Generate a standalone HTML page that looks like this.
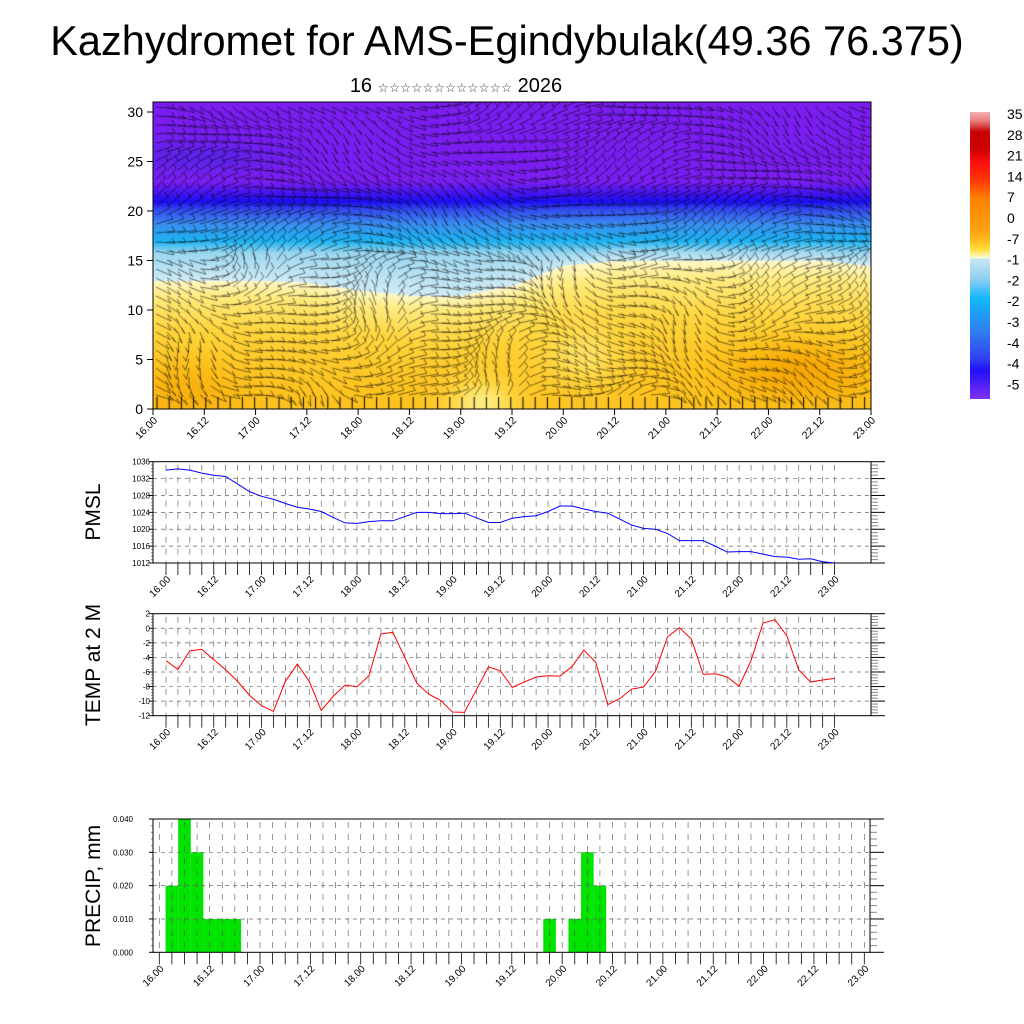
<!DOCTYPE html>
<html><head><meta charset="utf-8"><style>
html,body{margin:0;padding:0;background:#fff;}
#wrap{position:relative;width:1024px;height:1024px;overflow:hidden;font-family:"Liberation Sans",sans-serif;}
canvas{position:absolute;left:153px;top:102px;}
svg{position:absolute;left:0;top:0;}
</style></head><body>
<div id="wrap">
<canvas id="field" width="718" height="307"></canvas>
<svg id="svg" width="1024" height="1024" xmlns="http://www.w3.org/2000/svg">
<text x="507" y="55" font-size="41.5" text-anchor="middle" font-family="Liberation Sans, sans-serif">Kazhydromet for AMS-Egindybulak(49.36 76.375)</text>
<text x="456" y="92" font-size="20" text-anchor="middle" font-family="Liberation Sans, DejaVu Sans, sans-serif">16 <tspan font-size="12.5" font-family="DejaVu Sans, sans-serif" fill="#444">☆☆☆☆☆☆☆☆☆☆☆☆</tspan> 2026</text>
<text transform="translate(100,512) rotate(-90)" font-size="21" text-anchor="middle">PMSL</text>
<text transform="translate(100,665) rotate(-90)" font-size="21" text-anchor="middle">TEMP at 2 M</text>
<text transform="translate(100,886) rotate(-90)" font-size="21" text-anchor="middle">PRECIP, mm</text>
<g id="g"></g>
</svg>
</div>
<script>
// ---- data ----
const timeLabels = ["16.00","16.12","17.00","17.12","18.00","18.12","19.00","19.12","20.00","20.12","21.00","21.12","22.00","22.12","23.00"];
const pmslValues = [1034.0,1034.3,1034.0,1033.3,1032.8,1032.5,1030.7,1028.9,1027.8,1027.1,1026.1,1025.2,1024.8,1024.2,1022.8,1021.5,1021.4,1021.8,1022.0,1022.0,1023.0,1024.0,1024.0,1023.7,1023.7,1023.8,1022.7,1021.6,1021.6,1022.6,1023.0,1023.2,1024.2,1025.5,1025.5,1024.8,1024.2,1023.8,1022.4,1021.0,1020.2,1020.0,1019.0,1017.3,1017.3,1017.3,1016.0,1014.6,1014.7,1014.7,1014.1,1013.5,1013.4,1012.9,1013.0,1012.3,1012.0];
const pmslTicks = [1036,1032,1028,1024,1020,1016,1012];
const tempValues = [-4.45,-5.64,-3.08,-2.90,-4.31,-5.69,-7.29,-9.21,-10.63,-11.40,-7.29,-4.91,-7.29,-11.27,-9.35,-7.79,-8.02,-6.51,-0.79,-0.56,-3.99,-7.52,-9.03,-9.90,-11.50,-11.54,-8.43,-5.32,-5.82,-8.11,-7.38,-6.69,-6.51,-6.56,-5.27,-2.99,-4.68,-10.49,-9.67,-8.34,-8.07,-5.91,-1.20,0.08,-1.48,-6.33,-6.24,-6.69,-7.93,-4.45,0.72,1.18,-1.02,-5.73,-7.38,-7.10,-6.88];
const tempTicks = [2,0,-2,-4,-6,-8,-10,-12];
const precipValues = [0,0.02,0.04,0.03,0.01,0.01,0.01,0,0,0,0,0,0,0,0,0,0,0,0,0,0,0,0,0,0,0,0,0,0,0,0,0.01,0,0.01,0.03,0.02,0,0,0,0,0,0,0,0,0,0,0,0,0,0,0,0,0,0,0,0,0];
const precipTicks = [0.040,0.030,0.020,0.010,0.000];
const heightTicks = [30,25,20,15,10,5,0];
const cbarLabels = ["35","28","21","14","7","0","-7","-1","-2","-2","-3","-4","-4","-5"];
// top of warm layer (km) at each half day 16..23
const warmTop = [13,13,13,12.8,12,11.5,11.5,12.5,14.5,15,15,15,15,15,14.5];

const NS="http://www.w3.org/2000/svg";
const g=document.getElementById('g');
function el(t,a,p){const e=document.createElementNS(NS,t);for(const k in a)e.setAttribute(k,a[k]);(p||g).appendChild(e);return e;}

// ---------- top field ----------
(function(){
  const c=document.getElementById('field'),ctx=c.getContext('2d');
  const W=718,H=307,img=ctx.createImageData(W,H);
  function lerpC(stops,v){
    if(v<=stops[0][0])return stops[0][1];
    for(let i=1;i<stops.length;i++){if(v<=stops[i][0]){const a=stops[i-1],b=stops[i];const t=(v-a[0])/(b[0]-a[0]||1);return a[1].map((x,j)=>x+(b[1][j]-x)*t);}}
    return stops[stops.length-1][1];
  }
  const ys=[[0,[245,163,0]],[0.35,[253,194,30]],[0.6,[255,214,64]],[0.85,[255,235,128]],[1,[255,248,200]]];
  function gb(d,z,d0,z0,sd,sz){return Math.exp(-((d-d0)*(d-d0)/(sd*sd)+(z-z0)*(z-z0)/(sz*sz)));}
  for(let py=0;py<H;py++){
    const z=(H-py)/9.9;
    for(let px=0;px<W;px++){
      const d=px/W*7;
      const fi=d*2,i0=Math.min(13,Math.floor(fi)),f=fi-i0;
      const b=warmTop[i0]+(warmTop[i0+1]-warmTop[i0])*f;
      let col;
      if(z<b){
        let v=0.35+0.65*Math.pow(z/b,2);
        v-=0.35*gb(d,z,6.3,4,0.7,3);
        v-=0.2*gb(d,z,0.3,2,0.5,3);
        v+=0.5*gb(d,z,3.2,0.5,0.35,2.5);
        v+=0.3*gb(d,z,4.2,5,0.4,3);
        col=lerpC(ys,Math.max(0,Math.min(1,v)));
      } else {
        const s2=Math.max(b+1,15.8);
        const st=[[b,[210,236,245]],[s2,[154,214,240]],[17,[28,180,242]],[18.7,[58,142,240]],[20.2,[52,72,238]],[21,[28,14,242]],[22,[74,22,238]],[23,[122,30,240]],[32,[122,30,240]]];
        col=lerpC(st,z).slice();
        const k=gb(d,z,0.4,25.5,0.8,1.5);
        col=col.map((x,j)=>x+([80,36,232][j]-x)*k*0.7);
      }
      const o=(py*W+px)*4;img.data[o]=col[0];img.data[o+1]=col[1];img.data[o+2]=col[2];img.data[o+3]=255;
    }
  }
  ctx.putImageData(img,0,0);
  // decorative wind barbs texture
  ctx.strokeStyle='rgba(0,0,0,0.7)';ctx.lineWidth=0.75;
  for(let gy=5;gy<H-8;gy+=9){for(let gx=3;gx<W;gx+=11){
    const a=0.3*Math.sin(gx*0.031+gy*0.05)+0.9*Math.sin(gx*0.013-gy*0.021)+ (gy<150?0.1:0.6*Math.sin(gx*0.05));
    const L=19,dx=Math.cos(a)*L,dy=Math.sin(a)*L*0.6;
    ctx.beginPath();ctx.moveTo(gx,gy);ctx.lineTo(gx+dx,gy+dy);
    ctx.moveTo(gx+dx,gy+dy);ctx.lineTo(gx+dx-3,gy+dy-5);ctx.stroke();
  }}
  ctx.strokeStyle='#000';ctx.lineWidth=1;
  for(let gx=4;gx<W;gx+=12.2){ctx.beginPath();ctx.moveTo(gx,H-12);ctx.lineTo(gx,H);ctx.stroke();}
})();
el('rect',{x:153,y:102,width:718,height:307,fill:'none',stroke:'#000','stroke-width':1,});
heightTicks.forEach(v=>{const y=409-v*9.9;
  el('line',{x1:147,x2:153,y1:y,y2:y,stroke:'#000'});
  const t=el('text',{x:143,y:y+5,'font-size':14,'text-anchor':'end'});t.textContent=v;
  
  
});
timeLabels.forEach((s,i)=>{const x=153+i*718/14;
  el('line',{x1:x,x2:x,y1:409,y2:415,stroke:'#000'});
  const t=el('text',{x:0,y:0,'font-size':10.5,'text-anchor':'end',transform:`translate(${x+5},${421}) rotate(-45)`});t.textContent=s;
  
  
});
// colorbar
(function(){
  const stops=[[0,'#f4b0b0'],[0.03,'#e88080'],[0.07,'#c40000'],[0.13,'#d00000'],[0.18,'#ff1010'],[0.24,'#ff3800'],[0.3,'#ff8000'],[0.41,'#ffa010'],[0.45,'#ffc020'],[0.48,'#ffe040'],[0.508,'#fffbd0'],[0.512,'#c8e6f5'],[0.58,'#90d0f0'],[0.65,'#10b8ff'],[0.76,'#3080f0'],[0.86,'#3040f0'],[0.9,'#2010f8'],[1,'#8030f0']];
  const gr=el('linearGradient',{id:'cb',x1:0,y1:0,x2:0,y2:1});
  stops.forEach(s=>el('stop',{offset:s[0],'stop-color':s[1]},gr));
  el('rect',{x:970,y:112,width:20,height:287,fill:'url(#cb)',});
  cbarLabels.forEach((s,i)=>{const t=el('text',{x:1007,y:119+i*20.8,'font-size':14});t.textContent=s;
    
    });
})();

// ---------- line panels ----------
function frame(o){
  const {x0,x1,y0,y1,xs,ys,ticks,fmt,name,labOff}=o;
  for(let i=0;i<=56;i++){const x=xs(i);
    el('line',{x1:x,x2:x,y1:y0,y2:y1,stroke:'#555','stroke-width':0.6,'stroke-dasharray':'6,6','stroke-dashoffset':-3});
    el('line',{x1:x,x2:x,y1:y1,y2:y1+12,stroke:'#000','stroke-width':0.8});
  }
  ticks.forEach((v,k)=>{const y=ys(v);
    el('line',{x1:x0,x2:x1,y1:y,y2:y,stroke:'#666','stroke-width':0.7,'stroke-dasharray':'4,4'});
    el('line',{x1:x1,x2:x1+14,y1:y,y2:y,stroke:'#000'});
    el('line',{x1:x0-4,x2:x0,y1:y,y2:y,stroke:'#000'});
    const t=el('text',{x:x0-labOff,y:y+3,'font-size':8,'text-anchor':'end'});t.textContent=fmt(v);
    
    
    if(k<ticks.length-1){const y2=ys(ticks[k+1]);for(let m=1;m<5;m++){const yy=y+(y2-y)*m/5;
      el('line',{x1:x1,x2:x1+7,y1:yy,y2:yy,stroke:'#888'});el('line',{x1:x0-2,x2:x0,y1:yy,y2:yy,stroke:'#888'});}}
  });
  el('rect',{x:x0,y:y0,width:x1-x0,height:y1-y0,fill:'none',stroke:'#000','stroke-width':1});
  timeLabels.forEach((s,i)=>{const x=xs(i*4);
    const t=el('text',{x:0,y:0,'font-size':10,'text-anchor':'end',transform:`translate(${x+5},${y1+17}) rotate(-45)`});t.textContent=s;
    
    
  });
}
function mk(x0,x1,y0,y1,tx0,tx1,vmin,vmax){return {xs:i=>tx0+i*(tx1-tx0)/56, ys:v=>y0+(vmax-v)/(vmax-vmin)*(y1-y0)};}
const P=mk(153,871,461.7,563,166,834.6,1012,1036);
frame({x0:153,x1:871,y0:461.7,y1:563,xs:P.xs,ys:P.ys,ticks:pmslTicks,fmt:v=>v,name:'pmsl',labOff:3});
const pl=el('polyline',{points:pmslValues.map((v,i)=>P.xs(i)+','+P.ys(v)).join(' '),fill:'none',stroke:'#0000ff','stroke-width':1});


const T=mk(153,871,613.7,715.7,166,834.6,-12,2);
frame({x0:153,x1:871,y0:613.7,y1:715.7,xs:T.xs,ys:T.ys,ticks:tempTicks,fmt:v=>v,name:'temp',labOff:3});
const tl=el('polyline',{points:tempValues.map((v,i)=>T.xs(i)+','+T.ys(v)).join(' '),fill:'none',stroke:'#ff0000','stroke-width':1});


// precip
const R=mk(153,870,819,952.3,159.3,864.3,0,0.04);
const bw=(864.3-159.3)/56;
precipValues.forEach((v,i)=>{if(v<=0)return;
  const r=el('rect',{x:R.xs(i)-bw/2,y:R.ys(v),width:bw,height:952.3-R.ys(v),fill:'#00e400'});
  
  
});
frame({x0:153,x1:870,y0:819,y1:952.3,xs:R.xs,ys:R.ys,ticks:precipTicks,fmt:v=>v.toFixed(3),name:'precip',labOff:20});
</script>
</body></html>
